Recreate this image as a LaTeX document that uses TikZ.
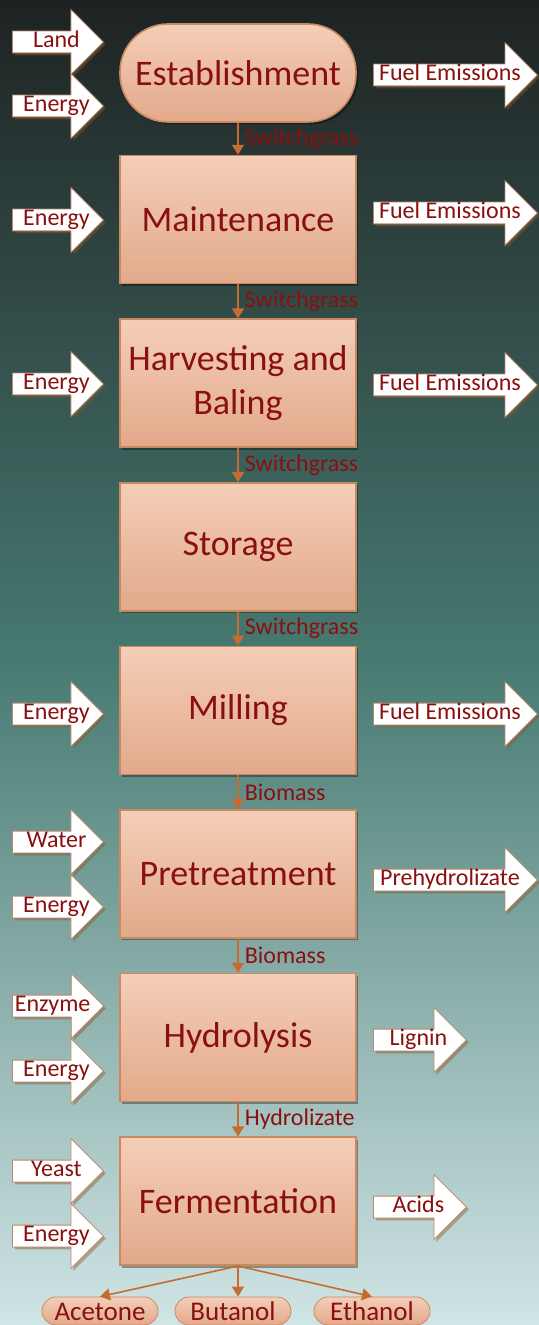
\documentclass[tikz,border=0pt]{standalone}
\usepackage{fontspec}
\setmainfont{Carlito}
\usetikzlibrary{positioning,shapes,arrows.meta,shadows}
\definecolor{boxtop}{HTML}{F4CEB8}
\definecolor{boxbot}{HTML}{E2A98A}
\definecolor{boxline}{HTML}{C98A62}
\definecolor{Darkred}{HTML}{8A1010}
\definecolor{flowcol}{HTML}{C66C33}
\definecolor{arrline}{HTML}{B9876A}
\definecolor{bgtop}{HTML}{1E2222}
\definecolor{bgmid}{HTML}{477A72}
\definecolor{bgbot}{HTML}{D0E5E5}
\tikzstyle{stage}=[%
      rectangle, draw=boxline, thick, top color=boxtop, bottom color=boxbot,
      drop shadow={shadow xshift=1.2pt, shadow yshift=-1.2pt, opacity=.35, fill=black},
      minimum width=118pt, minimum height=64pt, text=Darkred, align=center,
      font=\fontsize{18}{22}\selectfont
]
\tikzstyle{startstage}=[stage, rounded corners=24pt, minimum height=49pt]
\tikzstyle{blockarrow}=[%
      single arrow, draw=arrline, fill=white, anchor=tail,
      drop shadow={shadow xshift=1.2pt, shadow yshift=-1.2pt, opacity=.45, fill=brown!70!black},
      minimum height=45.5pt, single arrow head extend=10.75pt,
      text height=7pt, text depth=1.5pt, inner ysep=1pt, inner xsep=1pt,
      text=Darkred, font=\fontsize{12}{12}\selectfont
]
\tikzstyle{pushed}=[execute at begin node=\hspace*{4pt}]
\tikzstyle{inarrow}=[blockarrow, pushed]
\tikzstyle{outarrow}=[blockarrow, minimum height=82pt]
\tikzstyle{shortout}=[blockarrow, pushed, minimum height=46.5pt]
\tikzstyle{product}=[%
      rectangle, rounded corners=7pt, draw=boxline, top color=boxtop, bottom color=boxbot,
      minimum width=58pt, minimum height=14pt, inner sep=1pt,
      text height=9.5pt, text depth=0pt,
      text=Darkred, font=\fontsize{13.5}{14}\selectfont
]
\tikzstyle{flow}=[draw=flowcol, line width=.8pt, -{Triangle[length=5pt,width=6pt]}]
\tikzstyle{flowlbl}=[anchor=west, xshift=2pt, inner sep=1pt, text=Darkred, font=\fontsize{12}{12}\selectfont]

\begin{document}
\begin{tikzpicture}[x=0.5pt, y=-0.5pt]
    \useasboundingbox (0,0) rectangle (539,1325);
    \shade[top color=bgtop, bottom color=bgbot, middle color=bgmid] (0,0) rectangle (539,1325);

    % process chain
    \node[startstage] (estab)                          at (238,73) {Establishment};
    \node[stage]      (maint)    [below=16pt of estab]    {Maintenance};
    \node[stage]      (harv)     [below=17pt of maint]    {Harvesting and\\Baling};
    \node[stage]      (store)    [below=17pt of harv]     {Storage};
    \node[stage]      (mill)     [below=17pt of store]    {Milling};
    \node[stage]      (pretreat) [below=17pt of mill]     {Pretreatment};
    \node[stage]      (hydro)    [below=17pt of pretreat] {Hydrolysis};
    \node[stage]      (ferm)     [below=17pt of hydro]    {Fermentation};

    % inputs
    \node[inarrow]    (land)    at (12,42)   {Land};
    \node[inarrow]    (energy1) at (12,106)  {Energy};
    \node[inarrow]    (energy2) at (12,220)  {Energy};
    \node[inarrow]    (energy3) at (12,384)  {Energy};
    \node[inarrow]    (energy4) at (12,714)  {Energy};
    \node[inarrow]    (water)   at (12,842)  {Water};
    \node[inarrow]    (energy5) at (12,907)  {Energy};
    \node[blockarrow] (enzyme)  at (12,1006) {Enzyme};
    \node[inarrow]    (energy6) at (12,1071) {Energy};
    \node[inarrow]    (yeast)   at (12,1171) {Yeast};
    \node[inarrow]    (energy7) at (12,1236) {Energy};

    % outputs
    \node[outarrow] (fuel1)  at (373,75)   {Fuel Emissions};
    \node[outarrow] (fuel2)  at (373,213)  {Fuel Emissions};
    \node[outarrow] (fuel3)  at (373,385)  {Fuel Emissions};
    \node[outarrow] (fuel4)  at (373,714)  {Fuel Emissions};
    \node[outarrow] (prehyd) at (373,880)  {Prehydrolizate};
    \node[shortout] (lignin) at (373,1040) {Lignin};
    \node[shortout] (acids)  at (373,1207) {Acids};

    % products
    \node[product] (acetone) at (100,1311) {Acetone};
    \node[product] (butanol) at (233,1311) {Butanol};
    \node[product] (ethanol) at (372,1311) {Ethanol};

    \path (estab)    edge[flow] node[flowlbl] {Switchgrass} (maint)
          (maint)    edge[flow] node[flowlbl] {Switchgrass} (harv)
          (harv)     edge[flow] node[flowlbl] {Switchgrass} (store)
          (store)    edge[flow] node[flowlbl] {Switchgrass} (mill)
          (mill)     edge[flow] node[flowlbl] {Biomass} (pretreat)
          (pretreat) edge[flow] node[flowlbl] {Biomass} (hydro)
          (hydro)    edge[flow] node[flowlbl] {Hydrolizate} (ferm)
          (ferm.south) edge[flow] (acetone.north)
          (ferm.south) edge[flow] (butanol.north -| ferm.south)
          (ferm.south) edge[flow] (ethanol.north)
    ;
\end{tikzpicture}
\end{document}
